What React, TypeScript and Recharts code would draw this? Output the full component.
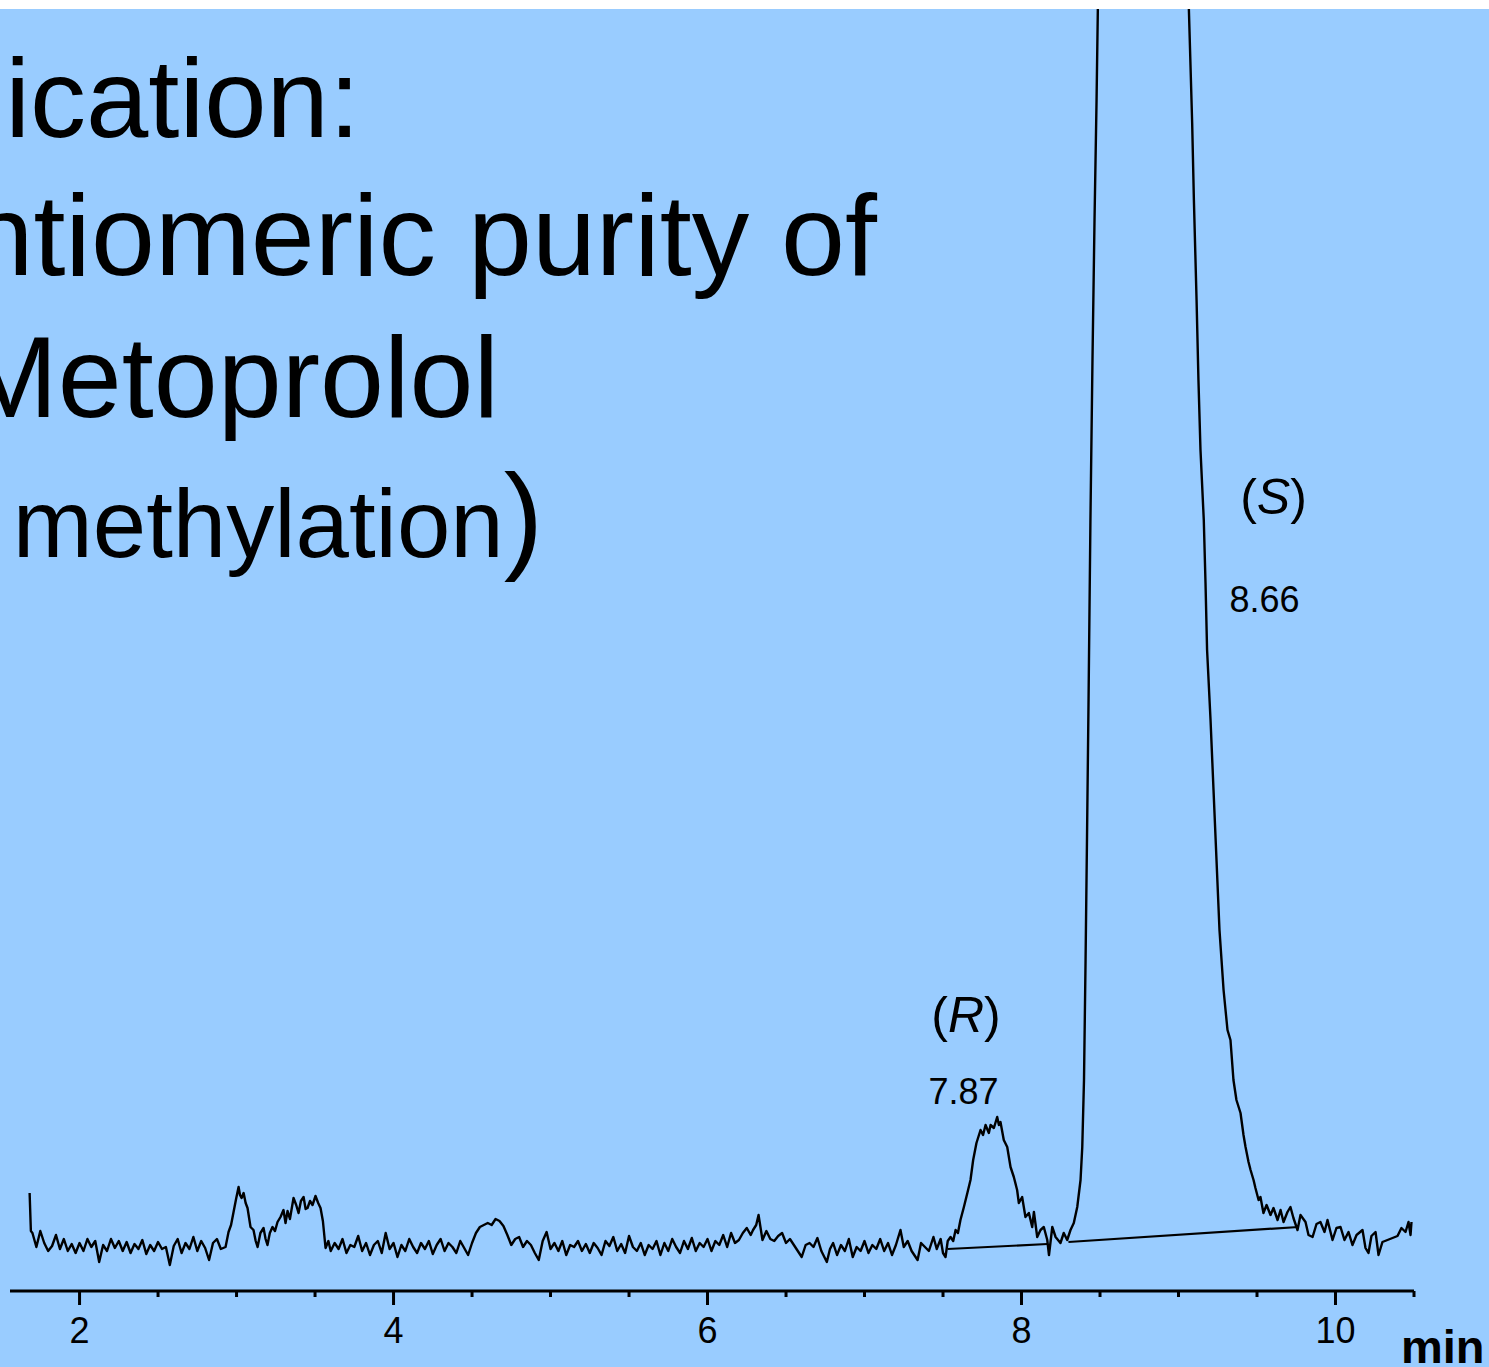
import React from 'react';
import { LineChart, Line, XAxis, YAxis, ReferenceDot } from 'recharts';

// Chromatogram trace: [time (min), detector signal (arbitrary units)]
const segStart: [number, number][] = [
  [1.682, 98], [1.69, 60], [1.7, 58], [1.725, 44], [1.75, 60], [1.775, 48], [1.8, 40], [1.825, 45], [1.85, 56], [1.875, 42],
  [1.9, 52], [1.925, 40], [1.95, 47], [1.975, 38], [2.0, 48], [2.025, 40], [2.05, 52], [2.075, 44], [2.1, 50], [2.125, 29],
  [2.15, 46], [2.175, 40], [2.2, 52], [2.225, 43], [2.25, 50], [2.275, 40], [2.3, 49], [2.325, 38], [2.35, 47], [2.375, 42],
  [2.4, 51], [2.425, 37], [2.45, 46], [2.475, 40], [2.5, 49], [2.525, 42], [2.55, 44], [2.575, 26], [2.6, 45], [2.625, 52],
  [2.65, 38], [2.675, 48], [2.7, 42], [2.725, 54], [2.75, 40], [2.775, 50], [2.8, 43], [2.825, 31], [2.85, 48], [2.875, 52],
  [2.9, 42],
];
const segPeak30: [number, number][] = [
  [2.93, 44], [2.949, 59], [2.965, 66], [2.981, 79], [2.997, 92], [3.013, 104], [3.022, 96], [3.032, 93], [3.045, 98], [3.058, 88],
  [3.07, 83], [3.089, 64], [3.108, 61], [3.122, 50], [3.134, 44], [3.152, 58], [3.172, 63], [3.185, 52], [3.197, 46], [3.212, 58],
  [3.229, 64], [3.245, 60], [3.261, 69], [3.28, 74], [3.299, 81], [3.312, 68], [3.325, 80], [3.34, 72], [3.363, 93], [3.38, 86],
  [3.395, 78], [3.41, 90], [3.427, 94], [3.44, 82], [3.452, 83], [3.468, 90], [3.484, 86], [3.503, 95], [3.52, 88], [3.535, 83],
  [3.55, 70], [3.567, 43], [3.585, 50], [3.6, 40],
];
const segMid1: [number, number][] = [
  [3.625, 48], [3.65, 42], [3.675, 52], [3.7, 38], [3.725, 46], [3.75, 44], [3.775, 55], [3.8, 40], [3.825, 48], [3.85, 36],
  [3.875, 46], [3.9, 50], [3.925, 38], [3.95, 58], [3.975, 42], [4.0, 48], [4.025, 34], [4.05, 46], [4.075, 40], [4.1, 52],
  [4.125, 44], [4.15, 38], [4.175, 48], [4.2, 42], [4.225, 50], [4.25, 37], [4.275, 46], [4.3, 52], [4.325, 40], [4.35, 48],
  [4.375, 44], [4.4, 38], [4.425, 50], [4.45, 43], [4.475, 36], [4.5, 48], [4.525, 58], [4.55, 64],
];
const segMid2: [number, number][] = [
  [4.575, 66], [4.6, 68], [4.625, 66], [4.65, 72], [4.675, 70], [4.7, 65], [4.725, 56], [4.75, 46], [4.775, 52], [4.8, 54],
  [4.825, 44], [4.85, 50], [4.875, 46], [4.9, 38], [4.925, 31], [4.95, 50], [4.975, 59], [5.0, 42], [5.025, 48], [5.05, 40],
  [5.075, 50], [5.1, 36], [5.125, 46], [5.15, 44], [5.175, 50], [5.2, 40], [5.225, 47], [5.25, 38], [5.275, 48], [5.3, 43],
  [5.325, 36], [5.35, 50], [5.375, 45], [5.4, 54], [5.425, 40], [5.45, 47], [5.475, 38], [5.5, 55], [5.525, 44], [5.55, 40],
  [5.575, 48], [5.6, 36], [5.625, 46], [5.65, 42], [5.675, 50], [5.7, 36], [5.725, 48], [5.75, 40], [5.775, 52], [5.8, 44],
  [5.825, 38], [5.85, 50], [5.875, 42], [5.9, 53], [5.925, 40], [5.95, 48], [5.975, 44], [6.0, 52], [6.025, 40], [6.05, 50],
  [6.075, 46], [6.1, 56], [6.125, 44], [6.15, 58], [6.175, 48],
];
const segBump63: [number, number][] = [
  [6.2, 51], [6.225, 58], [6.25, 63], [6.275, 56], [6.29, 61], [6.31, 66], [6.325, 76], [6.35, 51], [6.375, 60], [6.4, 52],
  [6.425, 50], [6.45, 55], [6.475, 58], [6.5, 48], [6.525, 52], [6.55, 46], [6.575, 40],
];
const segMid3: [number, number][] = [
  [6.6, 34], [6.625, 46], [6.65, 48], [6.675, 44], [6.7, 53], [6.725, 40], [6.76, 29], [6.78, 42], [6.8, 48], [6.825, 36],
  [6.85, 46], [6.875, 40], [6.9, 52], [6.925, 34], [6.95, 44], [6.975, 40], [7.0, 50], [7.025, 38], [7.05, 46], [7.075, 42],
  [7.1, 52], [7.125, 40], [7.15, 48], [7.175, 36], [7.2, 46], [7.229, 61], [7.25, 44], [7.275, 50], [7.3, 40], [7.338, 31],
  [7.36, 48], [7.385, 44], [7.41, 40], [7.439, 54], [7.46, 42], [7.485, 52], [7.5, 38], [7.516, 34], [7.53, 50],
];
const segPeakR: [number, number][] = [
  [7.548, 54], [7.565, 50], [7.58, 61], [7.595, 58], [7.611, 71], [7.633, 84], [7.655, 98], [7.675, 111], [7.692, 131], [7.713, 148],
  [7.725, 154], [7.739, 161], [7.755, 156], [7.771, 166], [7.792, 158], [7.803, 166], [7.824, 163], [7.845, 174], [7.856, 166], [7.866, 169],
  [7.887, 151], [7.909, 144], [7.93, 124], [7.951, 114], [7.972, 101], [7.983, 88], [8.004, 94], [8.025, 74], [8.047, 78], [8.068, 64],
  [8.079, 79], [8.1, 54], [8.121, 61], [8.142, 64], [8.164, 51], [8.175, 36], [8.196, 64], [8.217, 54], [8.248, 48], [8.269, 58],
  [8.291, 51], [8.312, 61], [8.333, 68], [8.355, 84], [8.376, 111], [8.387, 144], [8.398, 211],
];
const segPeakS: [number, number][] = [
  [8.408, 331], [8.417, 451], [8.427, 591], [8.439, 771], [8.452, 931], [8.465, 1071], [8.478, 1191], [8.487, 1291], [8.52, 1390], [8.6, 1480],
  [8.66, 1510], [8.75, 1500], [8.85, 1460], [8.95, 1400], [9.02, 1330], [9.066, 1282], [9.087, 1168], [9.098, 1091], [9.115, 991], [9.127, 911],
  [9.14, 841], [9.161, 771], [9.172, 708], [9.182, 641], [9.204, 571], [9.223, 501], [9.242, 431], [9.261, 361], [9.287, 301], [9.312, 261],
  [9.331, 251], [9.35, 211], [9.369, 191], [9.395, 178], [9.414, 156], [9.427, 144], [9.446, 129], [9.459, 121], [9.478, 111], [9.49, 103],
  [9.51, 91], [9.522, 94], [9.541, 78],
];
const segTail: [number, number][] = [
  [9.561, 86], [9.586, 76], [9.605, 83], [9.631, 71], [9.65, 81], [9.669, 69], [9.694, 79], [9.713, 84], [9.732, 73], [9.758, 61],
  [9.777, 76], [9.809, 69], [9.828, 56], [9.854, 54], [9.879, 67], [9.904, 69], [9.93, 59], [9.949, 71], [9.981, 51], [10.006, 63],
  [10.032, 64], [10.057, 51], [10.083, 59], [10.108, 46], [10.134, 56], [10.172, 61], [10.191, 43], [10.21, 38], [10.229, 55], [10.255, 59],
  [10.274, 36], [10.299, 49], [10.331, 51], [10.363, 53], [10.395, 55], [10.42, 63], [10.446, 59], [10.465, 69], [10.478, 56], [10.484, 69],
];

// Integration baselines drawn under the two enantiomer peaks
const baselineR: [number, number][] = [[7.529, 42], [8.166, 47]];
const baselineS: [number, number][] = [[8.299, 49], [9.764, 64]];

// Axis
const xTicks = [2, 2.5, 3, 3.5, 4, 4.5, 5, 5.5, 6, 6.5, 7, 7.5, 8, 8.5, 9, 9.5, 10, 10.5];
const majorTicks = [2, 4, 6, 8, 10];
const axisUnit = 'min';

// Text
const titleLines = ['Application:', 'Enantiomeric purity of', 'Metoprolol'];
const titleLast = ['(after methylation', ')'];
const peakNames = ['R', 'S'];
const peakTimes = ['7.87', '8.66'];

const FONT = "'Liberation Sans', Arial, Helvetica, sans-serif";

const toRows = (pairs: [number, number][]) => pairs.map(([t, v]) => ({ t, v }));
const traceData = toRows([
  ...segStart, ...segPeak30, ...segMid1, ...segMid2, ...segBump63, ...segMid3, ...segPeakR, ...segPeakS, ...segTail,
]);
const baselineRData = toRows(baselineR);
const baselineSData = toRows(baselineS);

const AxisTick = (props: any) => {
  const { x, y, payload } = props;
  const major = majorTicks.includes(payload.value);
  return (
    <g>
      <line x1={x} x2={x} y1={y} y2={y + (major ? 14 : 6)} stroke="#000" strokeWidth={3} />
      {major && (
        <text x={x} y={y + 52} textAnchor="middle" fontSize={36} fontFamily={FONT} fill="#000">
          {payload.value}
        </text>
      )}
    </g>
  );
};

const nameShape = (name: string) => (p: any) => (
  <text x={p.cx} y={p.cy} textAnchor="middle" fontSize={50} fontFamily={FONT} fill="#000">
    (<tspan fontStyle="italic">{name}</tspan>)
  </text>
);
const timeShape = (label: string) => (p: any) => (
  <text x={p.cx} y={p.cy} textAnchor="middle" fontSize={36} fontFamily={FONT} fill="#000">
    {label}
  </text>
);

export default function App() {
  return (
    <div
      style={{
        position: 'absolute',
        left: 0,
        top: 9,
        width: 1489,
        height: 1358,
        background: '#99CCFF',
        overflow: 'hidden',
      }}
    >
      <LineChart width={1489} height={1358} margin={{ top: 0, right: 75, bottom: 0, left: 10 }}>
        <XAxis
          type="number"
          dataKey="t"
          domain={[1.557, 10.5]}
          allowDataOverflow
          ticks={xTicks}
          interval={0}
          tickLine={false}
          tickSize={0}
          tickMargin={0}
          height={76}
          axisLine={{ stroke: '#000', strokeWidth: 3 }}
          tick={AxisTick}
        />
        <YAxis hide type="number" domain={[0, 1282]} allowDataOverflow />
        <Line
          data={traceData}
          dataKey="v"
          type="linear"
          stroke="#000"
          strokeWidth={2.4}
          dot={false}
          isAnimationActive={false}
          strokeLinejoin="round"
        />
        <Line data={baselineRData} dataKey="v" type="linear" stroke="#000" strokeWidth={2.2} dot={false} isAnimationActive={false} />
        <Line data={baselineSData} dataKey="v" type="linear" stroke="#000" strokeWidth={2.2} dot={false} isAnimationActive={false} />
        <ReferenceDot x={7.646} y={259} r={0} ifOverflow="visible" shape={nameShape(peakNames[0])} />
        <ReferenceDot x={7.631} y={187} r={0} ifOverflow="visible" shape={timeShape(peakTimes[0])} />
        <ReferenceDot x={9.605} y={777} r={0} ifOverflow="visible" shape={nameShape(peakNames[1])} />
        <ReferenceDot x={9.548} y={679} r={0} ifOverflow="visible" shape={timeShape(peakTimes[1])} />
      </LineChart>
      <svg
        width={1489}
        height={1358}
        style={{ position: 'absolute', left: 0, top: 0, pointerEvents: 'none' }}
      >
        <text x={360} y={128} textAnchor="end" fontSize={112} fontFamily={FONT} fill="#000">
          {titleLines[0]}
        </text>
        <text x={877} y={266} textAnchor="end" fontSize={115} fontFamily={FONT} fill="#000">
          {titleLines[1]}
        </text>
        <text x={499} y={408} textAnchor="end" fontSize={115} fontFamily={FONT} fill="#000">
          {titleLines[2]}
        </text>
        <text x={543} y={548} textAnchor="end" fontFamily={FONT} fill="#000">
          <tspan fontSize={96}>{titleLast[0]}</tspan>
          <tspan fontSize={118}>{titleLast[1]}</tspan>
        </text>
        <text x={1401} y={1354} fontSize={47} fontWeight="bold" fontFamily={FONT} fill="#000">
          {axisUnit}
        </text>
      </svg>
    </div>
  );
}
